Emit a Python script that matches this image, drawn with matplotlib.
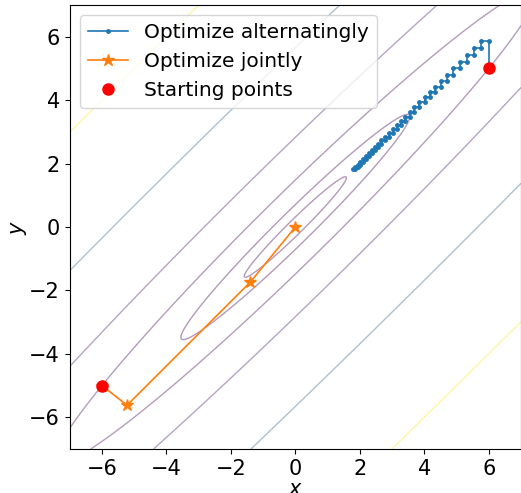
import numpy as np
import matplotlib.pyplot as plt

# quadratic objective f(x, y) = x^2 + y^2 - 1.96 x y
a = 1.96
levels = [0.1, 0.5, 2.2, 8, 32, 99]

# alternating coordinate updates, start at (6, 5): y first, then x
alt_x = [6.00, 6.00, 5.76, 5.76, 5.53, 5.53, 5.32, 5.32, 5.10, 5.10, 4.90, 4.90,
         4.71, 4.71, 4.52, 4.52, 4.34, 4.34, 4.17, 4.17, 4.01, 4.01, 3.85, 3.85,
         3.69, 3.69, 3.55, 3.55, 3.41, 3.41, 3.27, 3.27, 3.14, 3.14, 3.02, 3.02,
         2.90, 2.90, 2.78, 2.78, 2.67, 2.67, 2.57, 2.57, 2.47, 2.47, 2.37, 2.37,
         2.27, 2.27, 2.18, 2.18, 2.10, 2.10, 2.02, 2.02, 1.94, 1.94, 1.86, 1.86,
         1.79]
alt_y = [5.00, 5.88, 5.88, 5.65, 5.65, 5.42, 5.42, 5.21, 5.21, 5.00, 5.00, 4.80,
         4.80, 4.61, 4.61, 4.43, 4.43, 4.26, 4.26, 4.09, 4.09, 3.93, 3.93, 3.77,
         3.77, 3.62, 3.62, 3.48, 3.48, 3.34, 3.34, 3.21, 3.21, 3.08, 3.08, 2.96,
         2.96, 2.84, 2.84, 2.73, 2.73, 2.62, 2.62, 2.52, 2.52, 2.42, 2.42, 2.32,
         2.32, 2.23, 2.23, 2.14, 2.14, 2.06, 2.06, 1.97, 1.97, 1.90, 1.90, 1.82,
         1.82]

# joint updates, start at (-6, -5)
joint_x = [-6.0, -5.22, -1.40, 0.0]
joint_y = [-5.0, -5.62, -1.74, 0.0]

start_x = [6, -6]
start_y = [5, -5]

xs = np.linspace(-7, 7, 400)
X, Y = np.meshgrid(xs, xs)
Z = X**2 + Y**2 - a*X*Y

fig = plt.figure(figsize=(5.21, 4.93))
ax = fig.add_axes([69.7/521, 44/493, 451.3/521, 444/493])
ax.contour(X, Y, Z, levels=levels, cmap="viridis", alpha=0.4, linewidths=1.0)
ax.plot(alt_x, alt_y, marker=".", markersize=5, lw=1.2, color="tab:blue",
        label="Optimize alternatingly")
ax.plot(joint_x, joint_y, marker="*", markersize=9, lw=1.2, color="tab:orange",
        label="Optimize jointly")
ax.plot(start_x, start_y, "o", color="red", markersize=8, linestyle="none",
        label="Starting points", zorder=5)
ax.set_xlim(-7, 7)
ax.set_ylim(-7, 7)
ax.set_xticks([-6, -4, -2, 0, 2, 4, 6])
ax.set_yticks([-6, -4, -2, 0, 2, 4, 6])
ax.tick_params(labelsize=15)
ax.set_xlabel("$x$", fontsize=15, labelpad=0)
ax.set_ylabel("$y$", fontsize=15, labelpad=0)
ax.legend(loc="upper left", fontsize=14.5)
fig.savefig("out.png", dpi=100)
plt.close()
